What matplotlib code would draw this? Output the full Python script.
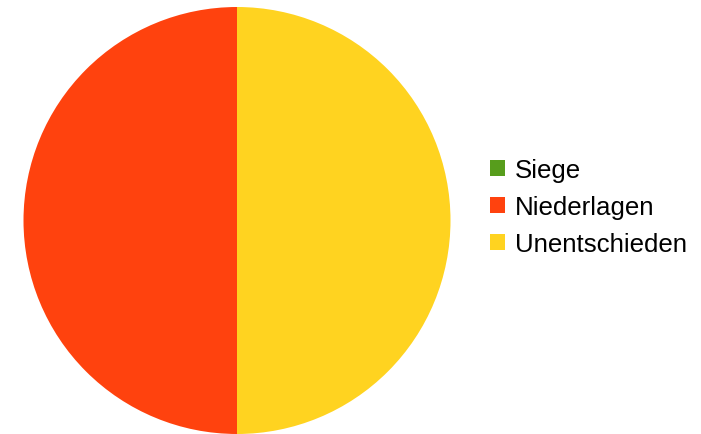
import matplotlib.pyplot as plt
from matplotlib.patches import Patch

labels = ["Siege", "Niederlagen", "Unentschieden"]
werte = [0, 1, 1]
farben = ["#579D1C", "#FF420E", "#FFD320"]

plt.rcParams['font.family'] = ['Liberation Sans', 'DejaVu Sans']

fig = plt.figure(figsize=(7.01, 4.35), dpi=100)
ax = fig.add_axes([23/701, 0/435, 428/701, 427/435])
ax.pie(werte, colors=farben, startangle=90, counterclock=True,
       wedgeprops=dict(linewidth=0), radius=1.0)
ax.set_xlim(-1, 1)
ax.set_ylim(-1, 1)
ax.set_aspect('equal')

handles = [Patch(facecolor=c, edgecolor='none') for c in farben]
fig.legend(handles, labels, loc='center left', bbox_to_anchor=(490/701, 1 - 208/435),
           frameon=False, fontsize=18.6, handlelength=0.6, handleheight=0.6,
           handletextpad=0.35, labelspacing=0.5, borderaxespad=0, borderpad=0)

fig.savefig("out.png", dpi=100)
